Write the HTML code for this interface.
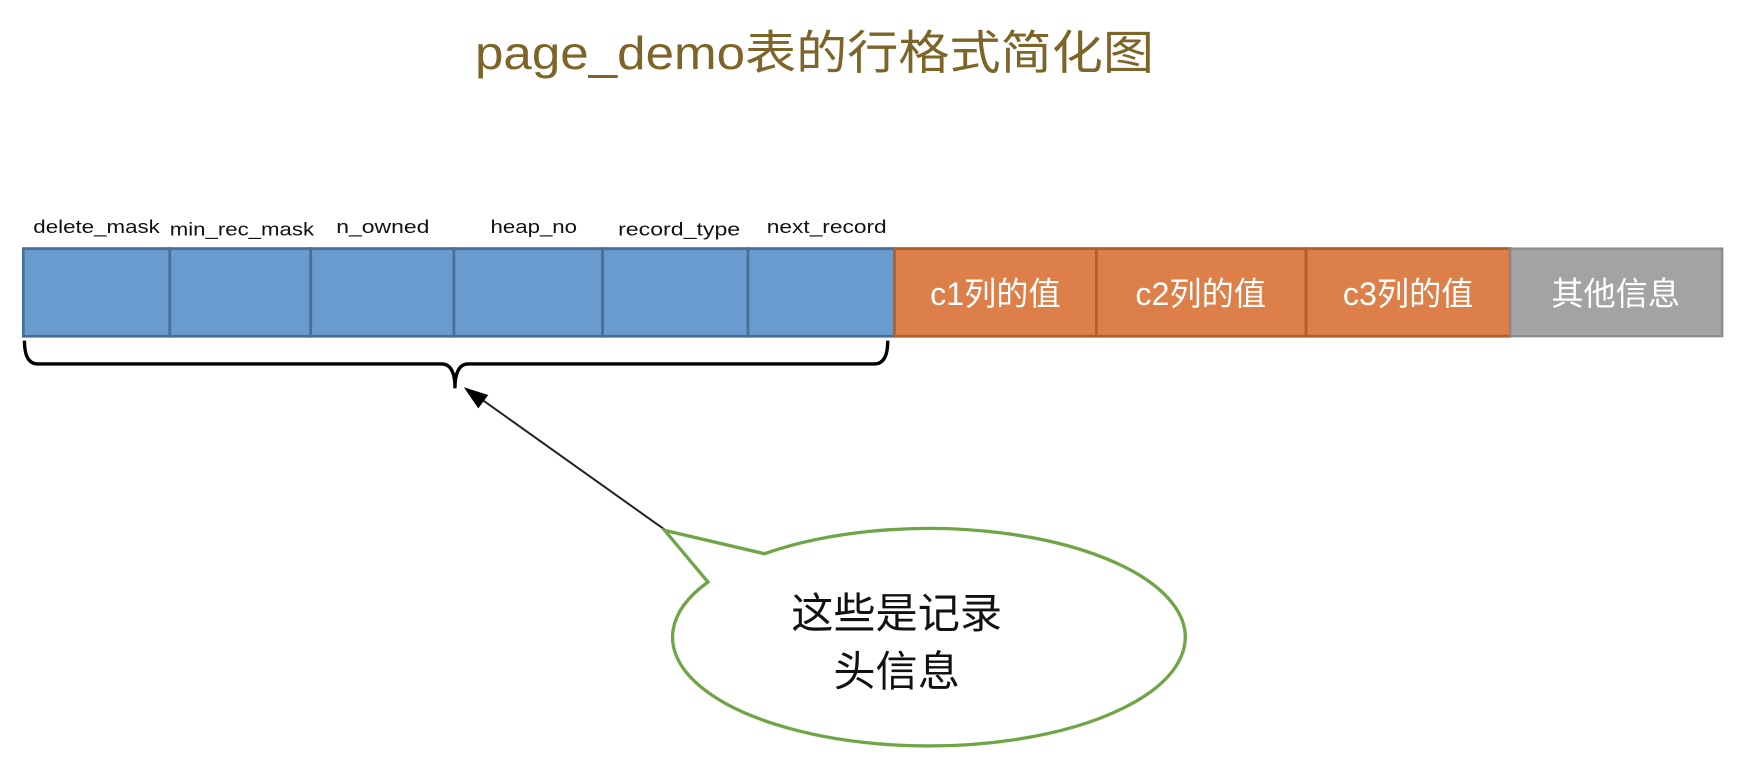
<!DOCTYPE html>
<html><head><meta charset="utf-8"><style>html,body{margin:0;padding:0;background:#fff}svg{display:block}</style></head>
<body>
<svg width="1740" height="774" viewBox="0 0 1568 697.5" xmlns="http://www.w3.org/2000/svg" font-family="Liberation Sans, Noto Sans CJK SC, sans-serif">
<text x="428" y="62" font-size="42" fill="#7d6428" textLength="612" lengthAdjust="spacingAndGlyphs">page_demo表的行格式简化图</text>
<g font-size="17" fill="#111">
<text x="87" y="210" text-anchor="middle" textLength="114" lengthAdjust="spacingAndGlyphs">delete_mask</text>
<text x="218" y="212" text-anchor="middle" textLength="130" lengthAdjust="spacingAndGlyphs">min_rec_mask</text>
<text x="345" y="210" text-anchor="middle" textLength="84" lengthAdjust="spacingAndGlyphs">n_owned</text>
<text x="481" y="210" text-anchor="middle" textLength="78" lengthAdjust="spacingAndGlyphs">heap_no</text>
<text x="612" y="212" text-anchor="middle" textLength="110" lengthAdjust="spacingAndGlyphs">record_type</text>
<text x="745" y="210" text-anchor="middle" textLength="108" lengthAdjust="spacingAndGlyphs">next_record</text>
</g>
<g stroke="#4a6f97" stroke-width="2.5" fill="#6a9bcf">
<rect x="21" y="224" width="132" height="79"/>
<rect x="153" y="224" width="127" height="79"/>
<rect x="280" y="224" width="129" height="79"/>
<rect x="409" y="224" width="134" height="79"/>
<rect x="543" y="224" width="131" height="79"/>
<rect x="674" y="224" width="132" height="79"/>
</g>
<g stroke="#ad5f2d" stroke-width="2.5" fill="#dd7f48">
<rect x="806" y="224" width="182" height="79"/>
<rect x="988" y="224" width="189" height="79"/>
<rect x="1177" y="224" width="184" height="79"/>
</g>
<rect x="1361" y="224" width="191" height="79" fill="#a3a3a3" stroke="#8a8a8a" stroke-width="2"/>
<g font-size="29" fill="#fff" text-anchor="middle">
<text x="897" y="275">c1列的值</text>
<text x="1082" y="275">c2列的值</text>
<text x="1269" y="275">c3列的值</text>
<text x="1456" y="275">其他信息</text>
</g>
<path d="M22 307 Q22 328 34 328 L398 328 Q410 328 410 350 Q410 328 422 328 L788 328 Q800 328 800 307" fill="none" stroke="#000" stroke-width="3"/>
<line x1="600" y1="478" x2="430" y2="357" stroke="#222" stroke-width="1.8"/>
<polygon points="418,349 440,356 431,368" fill="#000"/>
<path d="M599 478 L689 499 A231 98 0 1 1 638 524.5 Z" fill="#fff" stroke="#70a547" stroke-width="3" stroke-linejoin="miter"/>
<g font-size="38" fill="#111" text-anchor="middle">
<text x="808" y="566">这些是记录</text>
<text x="808" y="618">头信息</text>
</g>
</svg>
</body></html>
